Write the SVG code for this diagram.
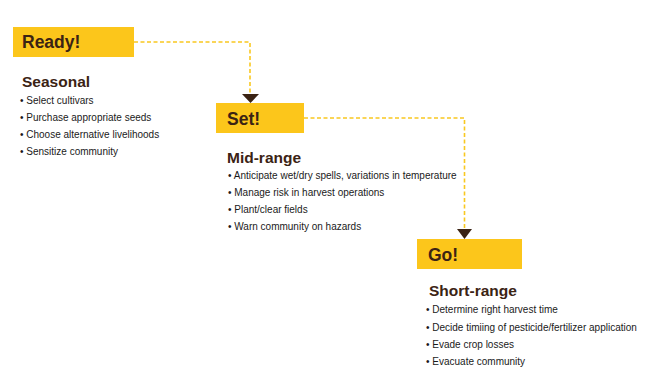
<svg xmlns="http://www.w3.org/2000/svg" width="650" height="378" viewBox="0 0 650 378">
<defs>
<style>
.box{fill:#FCC61B}
.title{font-family:"Liberation Sans",Arial,sans-serif;font-weight:bold;font-size:17.5px;fill:#3b2314}
.head{font-family:"Liberation Sans",Arial,sans-serif;font-weight:bold;font-size:15.5px;fill:#3b2314}
.item{font-family:"Liberation Sans",Arial,sans-serif;font-size:10px;fill:#1a1a1a}
.dash{fill:none;stroke:#F9C820;stroke-width:1.6;stroke-dasharray:4 2.5}
.arrow{fill:#3b2314}
</style>
</defs>
<rect width="650" height="378" fill="#ffffff"/>
<g id="connectors">
<path class="dash" d="M134,42 H250 V94"/>
<polygon class="arrow" points="242,94 259,94 250.5,103"/>
<path class="dash" d="M304,118 H464.5 V229"/>
<polygon class="arrow" points="457,229 472,229 464.5,239"/>
</g>
<g id="ready">
<rect class="box" x="13" y="27" width="121" height="30"/>
<text class="title" x="22" y="48">Ready!</text>
<text class="head" x="22" y="87">Seasonal</text>
<text class="item" x="20" y="104">• Select cultivars</text>
<text class="item" x="20" y="121">• Purchase appropriate seeds</text>
<text class="item" x="20" y="138">• Choose alternative livelihoods</text>
<text class="item" x="20" y="155">• Sensitize community</text>
</g>
<g id="set">
<rect class="box" x="216" y="103" width="88" height="30"/>
<text class="title" x="227" y="125">Set!</text>
<text class="head" x="227" y="163">Mid-range</text>
<text class="item" x="228" y="179">• Anticipate wet/dry spells, variations in temperature</text>
<text class="item" x="228" y="196">• Manage risk in harvest operations</text>
<text class="item" x="228" y="213">• Plant/clear fields</text>
<text class="item" x="228" y="230">• Warn community on hazards</text>
</g>
<g id="go">
<rect class="box" x="417" y="239" width="105" height="30"/>
<text class="title" x="428" y="261">Go!</text>
<text class="head" x="429" y="296">Short-range</text>
<text class="item" x="426" y="313">• Determine right harvest time</text>
<text class="item" x="426" y="331">• Decide timiing of pesticide/fertilizer application</text>
<text class="item" x="426" y="348">• Evade crop losses</text>
<text class="item" x="426" y="365">• Evacuate community</text>
</g>
</svg>
